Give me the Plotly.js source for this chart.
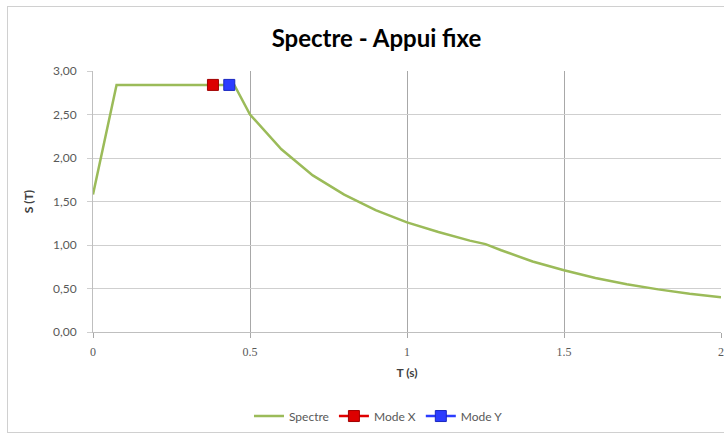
<!DOCTYPE html>
<html>
<head>
<meta charset="utf-8">
<script src="https://cdn.plot.ly/plotly-3.0.1.min.js"></script>
<style>
html,body{margin:0;padding:0;background:#fff;}
#wrap{position:relative;width:724px;height:434px;overflow:hidden;}
#chart{position:absolute;left:0;top:0;width:724px;height:434px;}
#frame{position:absolute;left:7px;top:6px;width:730px;height:425px;border:1px solid #d0d0d0;pointer-events:none;}
</style>
</head>
<body>
<div id="wrap"><div id="chart"></div><div id="frame"></div></div>
<script>
// Spectrum
var spectreT = [0, 0.075, 0.45, 0.5, 0.6, 0.7, 0.8, 0.9, 1.0, 1.1, 1.2, 1.25, 1.3, 1.4, 1.5, 1.6, 1.7, 1.8, 1.9, 2.0];
var spectreS = [1.58, 2.84, 2.84, 2.50, 2.10, 1.80, 1.58, 1.40, 1.26, 1.15, 1.05, 1.01, 0.94, 0.81, 0.71, 0.62, 0.55, 0.49, 0.44, 0.40];
var modeXT = [0.382];
var modeXS = [2.84];
var modeYT = [0.434];
var modeYS = [2.84];
var xTickVals = [0, 0.5, 1, 1.5, 2];
var xTickText = ['0', '0.5', '1', '1.5', '2'];

var traces = [
  {x: spectreT, y: spectreS, name: 'Spectre', mode: 'lines', type: 'scatter',
   line: {color: '#9bbb59', width: 2.5}},
  {x: modeXT, y: modeXS, name: 'Mode X', mode: 'lines+markers', type: 'scatter',
   line: {color: '#e00000', width: 2.5},
   marker: {symbol: 'square', size: 11, color: '#dd0000', line: {color: '#a00000', width: 1}}},
  {x: modeYT, y: modeYS, name: 'Mode Y', mode: 'lines+markers', type: 'scatter',
   line: {color: '#2b3cff', width: 2.5},
   marker: {symbol: 'square', size: 11, color: '#2b3cff', line: {color: '#1a28c0', width: 1}}}
];

var layout = {
  width: 724, height: 434,
  margin: {l: 93, r: 3, t: 71, b: 102},
  paper_bgcolor: '#ffffff', plot_bgcolor: '#ffffff',
  separators: ', ',
  title: {text: '<b>Spectre - Appui fixe</b>', x: 0.52, xanchor: 'center', y: 0.912, yanchor: 'middle',
          font: {family: 'Lato, "Open Sans", sans-serif', size: 24, color: '#000000'}},
  xaxis: {range: [0, 2], tickvals: xTickVals, ticktext: xTickText,
          showgrid: true, gridcolor: '#a8a8a8', gridwidth: 1,
          showline: true, linecolor: '#bfbfbf', zeroline: false,
          ticks: 'outside', ticklen: 5, tickcolor: '#a8a8a8', ticklabelstandoff: 4,
          tickfont: {family: '"Liberation Serif", "DejaVu Serif", serif', size: 12, color: '#595959'},
          title: {text: '<b>T (s)</b>', standoff: 10, font: {family: 'Lato, sans-serif', size: 12, color: '#404040'}}},
  yaxis: {range: [0, 3], dtick: 0.5, tick0: 0, tickformat: '.2f',
          showgrid: true, gridcolor: '#cfcfcf', gridwidth: 1,
          showline: true, linecolor: '#bfbfbf', zeroline: false,
          ticks: 'outside', ticklen: 5, tickcolor: '#cfcfcf', ticklabelstandoff: 8,
          tickfont: {family: 'Lato, sans-serif', size: 12, color: '#595959'},
          title: {text: '<b>S (T)</b>', standoff: 16, font: {family: 'Lato, sans-serif', size: 12, color: '#404040'}}},
  showlegend: true,
  legend: {orientation: 'h', x: 0.4546, xanchor: 'center', y: -0.322, yanchor: 'middle',
           font: {family: 'Lato, sans-serif', size: 12, color: '#595959'},
           itemwidth: 30, tracegroupgap: 0}
};

Plotly.newPlot('chart', traces, layout, {displayModeBar: false, staticPlot: true});
</script>
</body>
</html>
